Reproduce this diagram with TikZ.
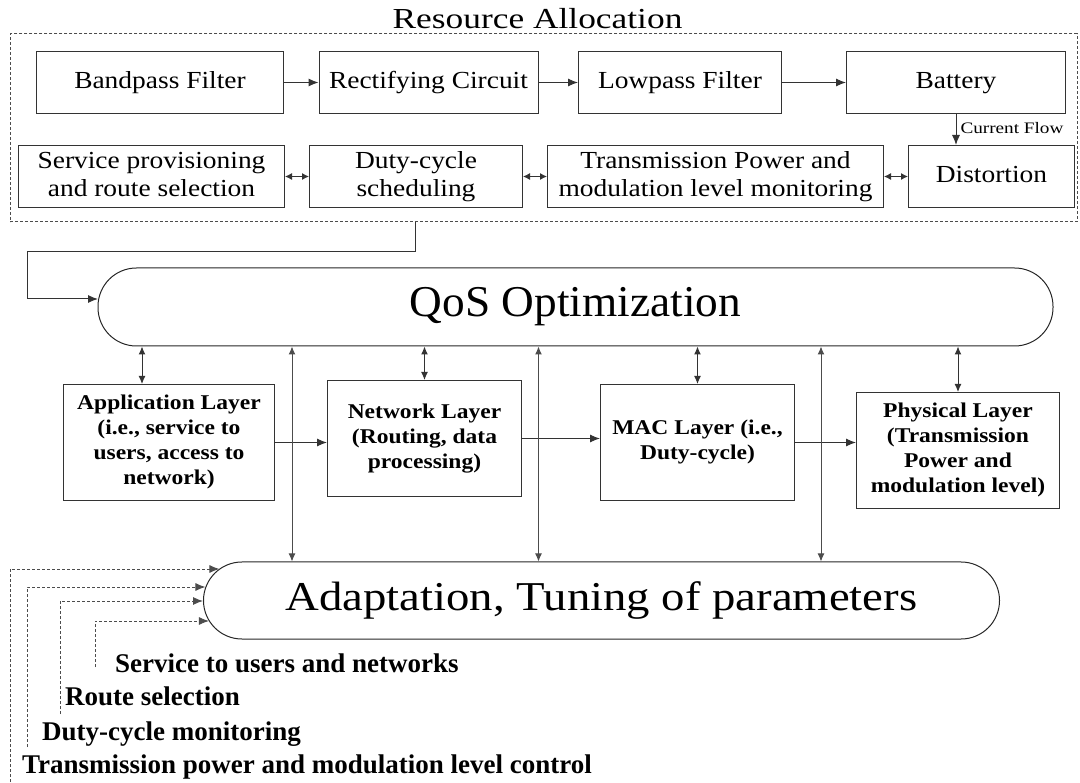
\documentclass[tikz,border=0pt]{standalone}
\usepackage{fontspec}
\setmainfont{Liberation Serif}
\usepackage{graphicx}
\usetikzlibrary{arrows.meta,calc}
\newcommand{\stx}[4]{\scalebox{#1}[1]{\fontsize{#2}{#3}\selectfont\begin{tabular}{@{}c@{}}#4\end{tabular}}}
\begin{document}
\begin{tikzpicture}[x=1pt,y=-1pt,
  box/.style={draw=black!80, line width=1pt, inner sep=0pt, anchor=north west, minimum height=62pt},
  lay/.style={draw=black!80, line width=1pt, inner sep=0pt, anchor=north west, minimum height=116pt, font=\bfseries},
  pill/.style={draw=black!85, line width=1pt, inner sep=0pt, rounded corners=38.4pt, anchor=west},
  conn/.style={line width=1pt, draw=black!80, -{Latex[length=10pt,width=8pt]}},
  bi/.style={line width=1pt, draw=black!80, {Latex[length=8pt,width=7pt]}-{Latex[length=8pt,width=7pt]}},
  bis/.style={line width=1pt, draw=black!80, {Latex[length=7pt,width=7pt]}-{Latex[length=7pt,width=7pt]}},
  dconn/.style={line width=0.9pt, draw=black!70, dash pattern=on 3pt off 2pt, -{Latex[length=10pt,width=8pt]}},
  lbl/.style={inner sep=0pt, anchor=base west, font=\bfseries\fontsize{27}{30}\selectfont},
]
\useasboundingbox (0,0) rectangle (1080,783);

% Resource allocation frame
\node[draw=black!70, line width=0.9pt, dash pattern=on 3pt off 2pt, inner sep=0pt, anchor=north west,
      minimum width=1067pt, minimum height=188pt] (ra) at (10,33.5) {};
\node[inner sep=0pt, anchor=base] (title) at (537.5,28.5) {\scalebox{1.22}[1]{\fontsize{29}{32}\selectfont Resource Allocation}};

% first row
\node[box, minimum width=247pt] (bp) at (36,51) {\stx{1.12}{24.5}{28}{Bandpass Filter}};
\node[box, minimum width=219pt] (rc) at (318.5,51) {\stx{1.12}{24.5}{28}{Rectifying Circuit}};
\node[box, minimum width=203pt] (lp) at (578,51) {\stx{1.12}{24.5}{28}{Lowpass Filter}};
\node[box, minimum width=219pt] (bat) at (846,51) {\stx{1.12}{24.5}{28}{Battery}};
% second row
\node[box, minimum width=266pt] (svc) at (18,145) {\stx{1.12}{24.5}{28}{Service provisioning\\and route selection}};
\node[box, minimum width=213pt] (duty) at (309,145) {\stx{1.12}{24.5}{28}{Duty-cycle\\scheduling}};
\node[box, minimum width=336pt] (tpm) at (547,145) {\stx{1.12}{24.5}{28}{Transmission Power and\\modulation level monitoring}};
\node[box, minimum width=166pt] (dist) at (908,145) {\stx{1.12}{24.5}{28}{Distortion}};

\draw[conn] (bp.east) -- (rc.west);
\draw[conn] (rc.east) -- (lp.west);
\draw[conn] (lp.east) -- (bat.west);
\draw[conn] (bat.south) -- (bat.south |- dist.north)
  node[midway, right=4pt, inner sep=0pt] {\stx{1.2}{16}{18}{Current Flow}};
\draw[bis] (svc.east) -- (duty.west);
\draw[bis] (duty.east) -- (tpm.west);
\draw[bis] (tpm.east) -- (dist.west);

% QoS and adaptation
\node[pill, minimum width=955pt, minimum height=78pt] (qos) at (97.5,307) {\stx{1.03}{44}{50}{QoS Optimization}};
\node[pill, minimum width=796pt, minimum height=77pt] (ada) at (203,600.5) {\raisebox{-3pt}{\stx{1.14}{41}{48}{Adaptation, Tuning of parameters}}};

\coordinate (tap) at (415,0);
\coordinate (loopL) at (27.3,252);
\draw[conn] (ra.south -| tap) |- (loopL) |- ($(qos.west)+(0.5,-8)$);

% layers
\node[lay, minimum width=211pt] (app) at (63,384) {\stx{1.12}{21}{25}{Application Layer\\(i.e., service to\\users, access to\\network)}};
\node[lay, minimum width=194pt] (net) at (327,380) {\stx{1.12}{21}{25}{Network Layer\\(Routing, data\\processing)}};
\node[lay, minimum width=194pt] (mac) at (600,384) {\stx{1.12}{21}{25}{MAC Layer (i.e.,\\Duty-cycle)}};
\node[lay, minimum width=203pt] (phys) at (856,392) {\stx{1.12}{21}{25}{Physical Layer\\(Transmission\\Power and\\modulation level)}};

\draw[conn] (app.east) -- (app.east -| net.west);
\draw[conn] (net.east) -- (net.east -| mac.west);
\draw[conn] (mac.east) -- (mac.east -| phys.west);

\coordinate (ax) at (142,0);
\draw[bi] (qos.south -| ax) -- (app.north -| ax);
\draw[bi] (qos.south -| net.north) -- (net.north);
\draw[bi] (qos.south -| mac.north) -- (mac.north);
\draw[bi] (qos.south -| phys.north) -- (phys.north);

\coordinate (v1) at (292,0);
\coordinate (v2) at (538.5,0);
\coordinate (v3) at (821,0);
\draw[bi, draw=black!70] (qos.south -| v1) -- (ada.north -| v1);
\draw[bi, draw=black!70] (qos.south -| v2) -- (ada.north -| v2);
\draw[bi, draw=black!70] (qos.south -| v3) -- (ada.north -| v3);

% feedback dashed arrows
\coordinate (e1) at (10,782);
\coordinate (e2) at (27.3,747);
\coordinate (e3) at (60,714);
\coordinate (e4) at (95,667);
\draw[dconn] (e1) |- ($(ada.west)+(16.4,-31.5)$);
\draw[dconn] (e2) |- ($(ada.west)+(2.4,-13.5)$);
\draw[dconn] (e3) |- ($(ada.west)+(0,0.5)$);
\draw[dconn] (e4) |- ($(ada.west)+(5.9,20.5)$);

\node[lbl] (l4) at (115,672) {Service to users and networks};
\node[lbl] (l3) at (65,705) {Route selection};
\node[lbl] (l2) at (42,740) {Duty-cycle monitoring};
\node[lbl] (l1) at (22,773) {Transmission power and modulation level control};
\end{tikzpicture}
\end{document}
